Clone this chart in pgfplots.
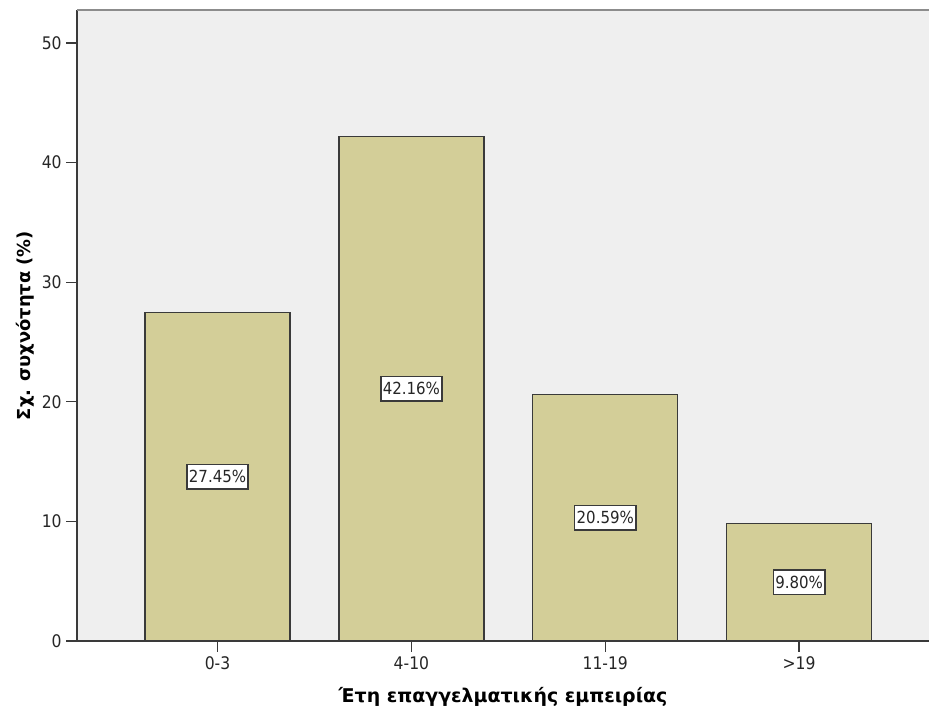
\documentclass[border=0pt]{standalone}
\usepackage{fontspec}
\setmainfont{DejaVu Sans Condensed}
\newfontfamily\labelfont{DejaVu Sans}
\usepackage{pgfplots}
\pgfplotsset{compat=1.18}
\usepackage{pgfplotstable}

\definecolor{plotbg}{HTML}{EFEFEF}
\definecolor{barfill}{HTML}{D3CE98}
\definecolor{edge}{HTML}{3A3A3A}
\definecolor{topline}{HTML}{8C8C8C}

% Years of professional experience: relative frequency (%)
\pgfplotstableread{
x y
0 27.45
1 42.16
2 20.59
3 9.80
}\experience

\begin{document}
\begin{tikzpicture}
\begin{axis}[
  scale only axis,
  width=639pt, height=473.25pt,
  xmin=-0.725, xmax=3.67,
  ymin=0, ymax=52.76,
  axis background/.style={fill=plotbg},
  axis x line*=bottom, axis y line*=left,
  axis line style={edge, line width=1.1pt},
  xtick={0,1,2,3},
  xticklabels={0-3,4-10,11-19,>19},
  ytick={0,10,20,30,40,50},
  tick align=outside,
  major tick length=8pt,
  tick style={edge, line width=1pt},
  /pgf/number format/assume math mode=true,
  ticklabel style={font=\fontsize{13}{15}\selectfont, text=black!85},
  xlabel={Έτη επαγγελματικής εμπειρίας},
  ylabel={Σχ. συχνότητα (\%)},
  xlabel style={font=\labelfont\fontsize{14.2}{16}\selectfont\bfseries, at={(rel axis cs:0.5,0)}, anchor=center, yshift=-42pt},
  ylabel style={font=\labelfont\fontsize{13.4}{16}\selectfont\bfseries, at={(rel axis cs:0,0.5)}, anchor=center, yshift=39pt},
]
  \addplot[ybar, bar width=0.748, fill=barfill, draw=edge, line width=1pt]
    table[x=x, y=y] {\experience};
  % value labels at half bar height
  \addplot[draw=none, mark=none,
    point meta=\thisrow{y},
    nodes near coords={\pgfmathprintnumber[fixed, precision=2, fixed zerofill]{\pgfplotspointmeta}\%},
    every node near coord/.append style={anchor=center, fill=white, draw=edge, line width=1.1pt,
      inner xsep=1.5pt, inner ysep=4.5pt, font=\fontsize{12.5}{14}\selectfont, text=black!85,
      /pgf/number format/assume math mode=true},
  ] table[x=x, y expr=\thisrow{y}/2] {\experience};
  \coordinate (bl) at (rel axis cs:0,0);
  \coordinate (tl) at (rel axis cs:0,1);
  \coordinate (tr) at (rel axis cs:1,1);
\end{axis}
\draw[topline, line width=1.5pt] (tl) -- (tr);
\pgfresetboundingbox
\path ([xshift=-57.75pt, yshift=-56.25pt]bl) rectangle ([yshift=7.5pt]tr);
\end{tikzpicture}
\end{document}
